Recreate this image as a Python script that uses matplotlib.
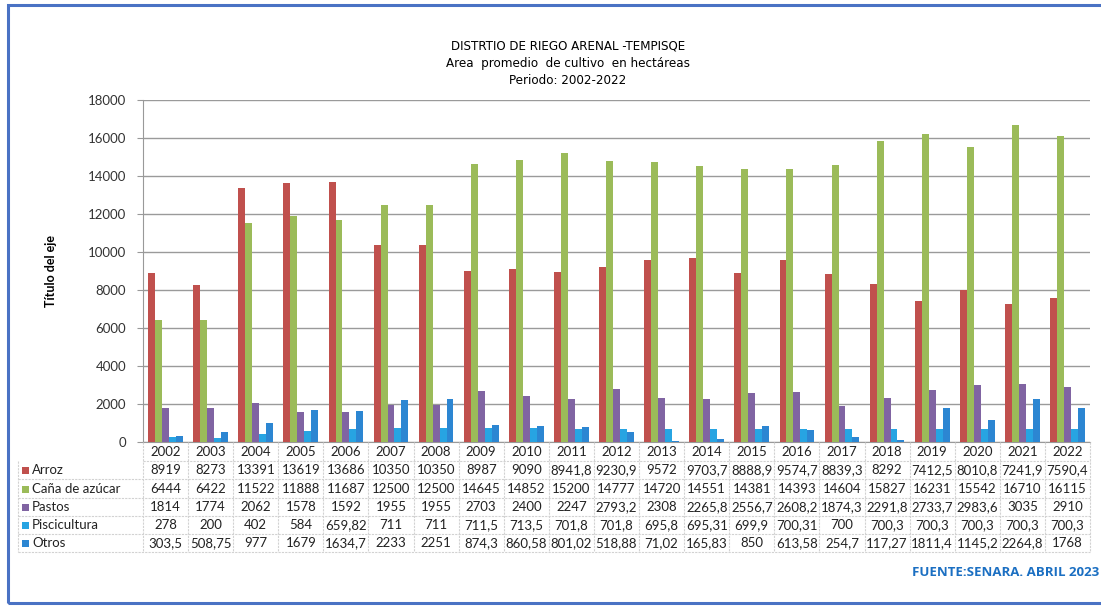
import numpy as np
import matplotlib
matplotlib.use("Agg")
import matplotlib.pyplot as plt
from matplotlib.patches import Rectangle
from matplotlib.lines import Line2D
from matplotlib import font_manager

# data
years = ["2002", "2003", "2004", "2005", "2006", "2007", "2008", "2009", "2010", "2011",
         "2012", "2013", "2014", "2015", "2016", "2017", "2018", "2019", "2020", "2021", "2022"]
series_names = ["Arroz", "Caña de azúcar", "Pastos", "Piscicultura", "Otros"]
arroz = [8919, 8273, 13391, 13619, 13686, 10350, 10350, 8987, 9090, 8941.8,
         9230.9, 9572, 9703.7, 8888.9, 9574.7, 8839.3, 8292, 7412.5, 8010.8, 7241.9, 7590.4]
cana = [6444, 6422, 11522, 11888, 11687, 12500, 12500, 14645, 14852, 15200,
        14777, 14720, 14551, 14381, 14393, 14604, 15827, 16231, 15542, 16710, 16115]
pastos = [1814, 1774, 2062, 1578, 1592, 1955, 1955, 2703, 2400, 2247,
          2793.2, 2308, 2265.8, 2556.7, 2608.2, 1874.3, 2291.8, 2733.7, 2983.6, 3035, 2910]
piscicultura = [278, 200, 402, 584, 659.82, 711, 711, 711.5, 713.5, 701.8,
                701.8, 695.8, 695.31, 699.9, 700.31, 700, 700.3, 700.3, 700.3, 700.3, 700.3]
otros = [303.5, 508.75, 977, 1679, 1634.7, 2233, 2251, 874.3, 860.58, 801.02,
         518.88, 71.02, 165.83, 850, 613.58, 254.7, 117.27, 1811.4, 1145.2, 2264.8, 1768]
# labels as printed in the table
table_text = [
    ["8919", "8273", "13391", "13619", "13686", "10350", "10350", "8987", "9090", "8941,8",
     "9230,9", "9572", "9703,7", "8888,9", "9574,7", "8839,3", "8292", "7412,5", "8010,8", "7241,9", "7590,4"],
    ["6444", "6422", "11522", "11888", "11687", "12500", "12500", "14645", "14852", "15200",
     "14777", "14720", "14551", "14381", "14393", "14604", "15827", "16231", "15542", "16710", "16115"],
    ["1814", "1774", "2062", "1578", "1592", "1955", "1955", "2703", "2400", "2247",
     "2793,2", "2308", "2265,8", "2556,7", "2608,2", "1874,3", "2291,8", "2733,7", "2983,6", "3035", "2910"],
    ["278", "200", "402", "584", "659,82", "711", "711", "711,5", "713,5", "701,8",
     "701,8", "695,8", "695,31", "699,9", "700,31", "700", "700,3", "700,3", "700,3", "700,3", "700,3"],
    ["303,5", "508,75", "977", "1679", "1634,7", "2233", "2251", "874,3", "860,58", "801,02",
     "518,88", "71,02", "165,83", "850", "613,58", "254,7", "117,27", "1811,4", "1145,2", "2264,8", "1768"],
]
colors = ["#C0504D", "#9BBB59", "#8064A2", "#27A4E2", "#2C86D2"]
yticks = [0, 2000, 4000, 6000, 8000, 10000, 12000, 14000, 16000, 18000]

W, H = 1101, 608
fig = plt.figure(figsize=(W / 100, H / 100), dpi=100)
fig.patch.set_facecolor("white")

def fx(px):
    return px / W

def fy(py):
    return 1 - py / H

# plot area in pixels
left, right, top, bottom = 143, 1090, 100, 442
ax = fig.add_axes([fx(left), fy(bottom), fx(right - left), (bottom - top) / H])

data = [arroz, cana, pastos, piscicultura, otros]
x = np.arange(len(years))
bw = 0.77 / 5
for i, (vals, c) in enumerate(zip(data, colors)):
    ax.bar(x + (i - 2) * bw, vals, width=bw, color=c, edgecolor="none", zorder=3)

tfont = ["Lato", "DejaVu Sans"]
ax.set_xlim(-0.5, len(years) - 0.5)
ax.set_ylim(0, 18000)
ax.set_yticks(yticks)
ax.set_yticklabels([str(t) for t in yticks], family=tfont, fontsize=9.5, color="#333333")
ax.tick_params(axis="y", length=4, color="#999999", pad=8)
ax.set_xticks([])
ax.grid(axis="y", color="#9a9a9a", linewidth=1, zorder=0)
for s in ["top", "right"]:
    ax.spines[s].set_visible(False)
ax.spines["left"].set_color("#999999")
ax.spines["bottom"].set_color("#999999")

ax.set_ylabel("Título del eje", family=tfont, fontsize=9,
              fontweight="bold", labelpad=22)

# title (narrow face if one is around)
names = {f.name for f in font_manager.fontManager.ttflist}
if "Liberation Sans Narrow" in names:
    tprops = dict(family="Liberation Sans Narrow", fontsize=11)
else:
    tprops = dict(family="DejaVu Sans", stretch="condensed", fontsize=9.5)
fig.text(0.516, fy(46), "DISTRTIO DE RIEGO ARENAL -TEMPISQE", ha="center", va="center", **tprops)
fig.text(0.516, fy(63), "Area  promedio  de cultivo  en hectáreas", ha="center", va="center", **tprops)
fig.text(0.516, fy(80), "Periodo: 2002-2022", ha="center", va="center", **tprops)

# data table under the chart
colw = (right - left) / len(years)
row_y = [452, 470, 489, 507, 525, 543]
for j, yr in enumerate(years):
    cx = left + (j + 0.5) * colw
    fig.text(fx(cx), fy(row_y[0]), yr, ha="center", va="center", family=tfont,
             fontsize=9.5, color="#222222")
    for r in range(5):
        fig.text(fx(cx), fy(row_y[r + 1]), table_text[r][j], ha="center", va="center",
                 family=tfont, fontsize=9.5, color="#222222")

for r, name in enumerate(series_names):
    yy = row_y[r + 1]
    fig.patches.append(Rectangle((fx(22), fy(yy + 3.5)), 7 / W, 7 / H, transform=fig.transFigure,
                                 facecolor=colors[r], edgecolor="none"))
    fig.text(fx(32), fy(yy), name, ha="left", va="center", family=tfont, fontsize=9.5,
             color="#222222")

gc = "#d2d2d2"
for k in range(6):
    yy = row_y[k] + 9
    x0 = left if k == 0 else 18
    fig.lines.append(Line2D([fx(x0), fx(right)], [fy(yy), fy(yy)], transform=fig.transFigure,
                            color=gc, linewidth=0.8, linestyle=(0, (2, 1))))
for j in range(len(years) + 1):
    xx = left + j * colw
    fig.lines.append(Line2D([fx(xx), fx(xx)], [fy(bottom), fy(row_y[-1] + 9)],
                            transform=fig.transFigure, color=gc, linewidth=0.8,
                            linestyle=(0, (2, 1))))
fig.lines.append(Line2D([fx(18), fx(18)], [fy(row_y[0] + 9), fy(row_y[-1] + 9)],
                        transform=fig.transFigure, color=gc, linewidth=0.8, linestyle=(0, (2, 1))))

fig.text(fx(1099), fy(573), "FUENTE:SENARA. ABRIL 2023", ha="right", va="center",
         family=["Open Sans", "DejaVu Sans"], fontsize=9.5, fontweight="bold", color="#1b6fc2")

# blue frame
fig.patches.append(Rectangle((fx(8), fy(603)), (1110 - 8) / W, (603 - 5) / H,
                             transform=fig.transFigure, facecolor="none",
                             edgecolor="#4a72c4", linewidth=2.2))

fig.savefig("out.png", dpi=100)
